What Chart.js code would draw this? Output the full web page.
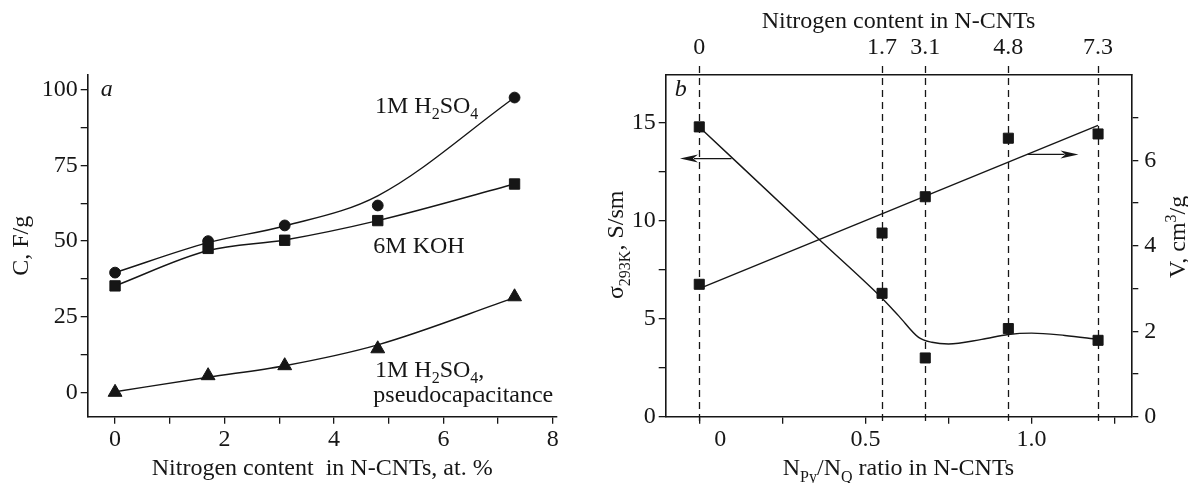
<!DOCTYPE html>
<html>
<head>
<meta charset="utf-8">
<title>N-CNTs: capacitance, conductivity and pore volume</title>
<script src="https://cdn.jsdelivr.net/npm/chart.js"></script>
<style>
  body { margin: 0; background: #fff; }
  #wrap { position: relative; width: 1188px; height: 483px; overflow: hidden; }
  #wrap canvas { position: absolute; top: 0; }
  #chartA { left: 0; }
  #chartB { left: 590px; }
</style>
</head>
<body>
<div id="wrap">
  <canvas id="chartA" width="590" height="483"></canvas>
  <canvas id="chartB" width="598" height="483"></canvas>
</div>
<script>
// panel a: specific capacitance vs nitrogen content
var nitrogen = [0, 1.7, 3.1, 4.8, 7.3];
var capH2SO4 = [39.6, 50, 55.2, 61.8, 97.5];
var capKOH = [35.2, 47.6, 50.3, 56.8, 68.9];
var capPseudo = [0, 5.5, 8.8, 14.4, 31.6];
// smoothed curves as drawn in the figure, read at the same nitrogen contents
var fitH2SO4 = [39.6, 49.5, 55, 65, 97.5];
var fitKOH = [35.2, 46.9, 50.4, 56.8, 68.9];
var fitPseudo = [0.2, 5.0, 8.8, 15.7, 31.3];
var capTicksX = [0, 1, 2, 3, 4, 5, 6, 7, 8];
var capTicksY = [0, 12.5, 25, 37.5, 50, 62.5, 75, 87.5, 100];

// panel b: conductivity and pore volume vs NPy/NQ ratio
var ratio = [0, 0.55, 0.68, 0.93, 1.2];
var nitrogenLabels = ['0', '1.7', '3.1', '4.8', '7.3'];
var sigma = [14.8, 6.3, 3.0, 4.5, 3.9];
var volume = [3.1, 4.3, 5.15, 6.52, 6.62];
var sigmaFitX = [0, 0.36, 0.55, 0.6, 0.66, 0.7, 0.75, 0.85, 0.93, 1.0, 1.1, 1.2];
var sigmaFitY = [14.8, 9.06, 6.05, 5.15, 4.05, 3.8, 3.71, 3.95, 4.2, 4.27, 4.15, 3.95];
var volumeFitX = [0, 1.2];
var volumeFitY = [3.0, 6.82];
var ratioTicks = [0, 0.25, 0.5, 0.75, 1, 1.25];
var sigmaTicks = [0, 2.5, 5, 7.5, 10, 12.5, 15];
var volumeTicks = [0, 1, 2, 3, 4, 5, 6, 7];

var INK = '#161616';
var SERIF = '"Liberation Serif", "Times New Roman", serif';

Chart.defaults.font.family = SERIF;
Chart.defaults.font.size = 24;
Chart.defaults.color = INK;
Chart.defaults.animation = false;
Chart.defaults.plugins.legend.display = false;
Chart.defaults.plugins.tooltip.enabled = false;

function pts(xs, ys) {
  return xs.map(function (x, i) { return {x: x, y: ys[i]}; });
}
function marker(data, style, radius) {
  return {data: data, showLine: false, pointStyle: style, pointRadius: radius,
          pointBackgroundColor: INK, pointBorderColor: INK, pointBorderWidth: 1};
}
function curve(data, axis) {
  return {data: data, showLine: true, pointRadius: 0, borderColor: INK, borderWidth: 1.4,
          cubicInterpolationMode: 'monotone', fill: false, yAxisID: axis || 'y'};
}
function setTicks(values) {
  return function (s) { s.ticks = values.map(function (v) { return {value: v}; }); };
}
function fixWidth(w) { return function (s) { s.width = w; }; }
function fixHeight(h) { return function (s) { s.height = h; }; }

// text with sub- and superscripts, parts = [[text, 'sub'|'sup'|undefined], ...]
function drawRich(ctx, parts, x, y, size, align) {
  var small = Math.round(size * 0.68);
  var fontOf = function (p) { return (p[1] ? small : size) + 'px ' + SERIF; };
  var w = 0;
  parts.forEach(function (p) { ctx.font = fontOf(p); w += ctx.measureText(p[0]).width; });
  var cx = align === 'center' ? x - w / 2 : x;
  ctx.textAlign = 'left';
  ctx.textBaseline = 'alphabetic';
  ctx.fillStyle = INK;
  parts.forEach(function (p) {
    ctx.font = fontOf(p);
    var dy = p[1] === 'sub' ? size * 0.28 : p[1] === 'sup' ? -size * 0.38 : 0;
    ctx.fillText(p[0], cx, y + dy);
    cx += ctx.measureText(p[0]).width;
  });
}

function axisStyle(tickLen) {
  return {
    border: {display: true, color: INK, width: 1.6},
    grid: {drawOnChartArea: false, drawTicks: tickLen > 0, tickLength: tickLen, color: INK, lineWidth: 1.3}
  };
}

// ---------- panel a ----------
var capNotes = [
  {x: 4.75, y: 92.5, parts: [['1M H'], ['2', 'sub'], ['SO'], ['4', 'sub']]},
  {x: 4.72, y: 46.1, parts: [['6M KOH']]},
  {x: 4.75, y: 5.2, parts: [['1M H'], ['2', 'sub'], ['SO'], ['4', 'sub'], [',']]},
  {x: 4.72, y: -3.3, parts: [['pseudocapacitance']]}
];

var notesA = {
  id: 'notesA',
  afterDatasetsDraw: function (chart) {
    var ctx = chart.ctx, sx = chart.scales.x, sy = chart.scales.y, area = chart.chartArea;
    ctx.save();
    capNotes.forEach(function (n) {
      drawRich(ctx, n.parts, sx.getPixelForValue(n.x), sy.getPixelForValue(n.y), 24, 'left');
    });
    ctx.font = 'italic 24px ' + SERIF;
    ctx.fillText('a', area.left + 13, area.top + 21);
    ctx.restore();
  }
};

var xA = Object.assign(axisStyle(7), {
  type: 'linear', min: -0.5, max: 8.07,
  afterBuildTicks: setTicks(capTicksX),
  afterFit: fixHeight(66.3),
  ticks: {padding: 2, font: {size: 24}, maxRotation: 0, autoSkip: false,
          callback: function (v) { return v % 2 === 0 ? String(v) : ''; }},
  title: {display: true, text: 'Nitrogen content  in N-CNTs, at. %', padding: {top: 0, bottom: 0}}
});
var yA = Object.assign(axisStyle(7), {
  type: 'linear', min: -8.07, max: 104.96,
  afterBuildTicks: setTicks(capTicksY),
  afterFit: fixWidth(87.7),
  ticks: {padding: 3, font: {size: 24}, autoSkip: false,
          callback: function (v) { return v % 25 === 0 ? String(v) : ''; }},
  title: {display: true, text: 'C, F/g', padding: {top: 7, bottom: 0}}
});

new Chart(document.getElementById('chartA'), {
  type: 'scatter',
  data: {
    datasets: [
      marker(pts(nitrogen, capH2SO4), 'circle', 5.4),
      marker(pts(nitrogen, capKOH), 'rect', 7.3),
      marker(pts(nitrogen, capPseudo), 'triangle', 8),
      curve(pts(nitrogen, fitH2SO4)),
      curve(pts(nitrogen, fitKOH)),
      curve(pts(nitrogen, fitPseudo))
    ]
  },
  options: {
    responsive: false,
    layout: {padding: {top: 75, right: 33.3, left: 0, bottom: 0}},
    scales: {x: xA, y: yA}
  },
  plugins: [notesA]
});

// ---------- panel b ----------
var arrows = [
  {axis: 'y', from: [0.097, 13.18], to: [-0.058, 13.18]},
  {axis: 'y2', from: [0.988, 6.14], to: [1.141, 6.14]}
];

var notesB = {
  id: 'notesB',
  beforeDatasetsDraw: function (chart) {
    // dashed guides at each sample, running past the frame
    var ctx = chart.ctx, sx = chart.scales.x, area = chart.chartArea;
    ctx.save();
    ctx.strokeStyle = INK;
    ctx.lineWidth = 1.3;
    ctx.setLineDash([7, 5]);
    ratio.forEach(function (r) {
      var px = Math.round(sx.getPixelForValue(r)) + 0.5;
      ctx.beginPath();
      ctx.moveTo(px, area.top - 9);
      ctx.lineTo(px, area.bottom + 9);
      ctx.stroke();
    });
    ctx.restore();
  },
  afterDatasetsDraw: function (chart) {
    var ctx = chart.ctx, sx = chart.scales.x, area = chart.chartArea;
    ctx.save();
    ctx.strokeStyle = INK;
    ctx.fillStyle = INK;
    ctx.lineWidth = 1.3;
    arrows.forEach(function (a) {
      var sy = chart.scales[a.axis];
      var x0 = sx.getPixelForValue(a.from[0]), y0 = sy.getPixelForValue(a.from[1]);
      var x1 = sx.getPixelForValue(a.to[0]), y1 = sy.getPixelForValue(a.to[1]);
      var dir = x1 > x0 ? 1 : -1;
      ctx.beginPath();
      ctx.moveTo(x0, y0);
      ctx.lineTo(x1 - dir * 14, y1);
      ctx.stroke();
      ctx.beginPath();
      ctx.moveTo(x1, y1);
      ctx.lineTo(x1 - dir * 18, y1 - 4);
      ctx.lineTo(x1 - dir * 13, y1);
      ctx.lineTo(x1 - dir * 18, y1 + 4);
      ctx.closePath();
      ctx.fill();
    });

    var midY = (area.top + area.bottom) / 2;
    // left axis title
    ctx.save();
    ctx.translate(33, midY - 1);
    ctx.rotate(-Math.PI / 2);
    drawRich(ctx, [['\u03c3'], ['293K', 'sub'], [', S/sm']], 0, 0, 24, 'center');
    ctx.restore();
    // right axis title
    ctx.save();
    ctx.translate(area.right + 53.7, midY - 9);
    ctx.rotate(-Math.PI / 2);
    drawRich(ctx, [['V, cm'], ['3', 'sup'], ['/g']], 0, 0, 24, 'center');
    ctx.restore();
    // bottom axis title
    drawRich(ctx, [['N'], ['Py', 'sub'], ['/N'], ['Q', 'sub'], [' ratio in N-CNTs']],
             (area.left + area.right) / 2, 475, 24, 'center');
    ctx.font = 'italic 24px ' + SERIF;
    ctx.fillText('b', area.left + 9, area.top + 21);
    ctx.restore();
  }
};

var xB = Object.assign(axisStyle(7), {
  type: 'linear', position: 'bottom', min: -0.101, max: 1.3,
  afterBuildTicks: setTicks(ratioTicks),
  afterFit: fixHeight(66.3),
  ticks: {padding: 2, font: {size: 24}, maxRotation: 0, autoSkip: false,
          callback: function (v) {
            if (v === 0) return '       0';
            if (v === 0.5) return '0.5';
            if (v === 1) return '1.0';
            return '';
          }}
});
var x2B = Object.assign(axisStyle(0), {
  type: 'linear', position: 'top', min: -0.101, max: 1.3,
  afterBuildTicks: setTicks(ratio),
  afterFit: fixHeight(75),
  ticks: {padding: 12.5, font: {size: 24}, maxRotation: 0, autoSkip: false,
          callback: function (v, i) { return nitrogenLabels[i]; }},
  title: {display: true, text: 'Nitrogen content in N-CNTs', padding: {top: 7, bottom: 0}}
});
var yB = Object.assign(axisStyle(7), {
  type: 'linear', position: 'left', min: 0, max: 17.45,
  afterBuildTicks: setTicks(sigmaTicks),
  afterFit: fixWidth(75.7),
  ticks: {padding: 3, font: {size: 24}, autoSkip: false,
          callback: function (v) { return v % 5 === 0 ? String(v) : ''; }}
});
var y2B = Object.assign(axisStyle(7), {
  type: 'linear', position: 'right', min: 0, max: 8,
  afterBuildTicks: setTicks(volumeTicks),
  afterFit: fixWidth(56.7),
  ticks: {padding: 6, font: {size: 24}, autoSkip: false,
          callback: function (v) { return v % 2 === 0 ? String(v) : ''; }}
});

var sigmaMarks = marker(pts(ratio, sigma), 'rect', 7.1);
var volumeMarks = marker(pts(ratio, volume), 'rect', 7.1);
volumeMarks.yAxisID = 'y2';

new Chart(document.getElementById('chartB'), {
  type: 'scatter',
  data: {
    datasets: [
      sigmaMarks,
      volumeMarks,
      curve(pts(sigmaFitX, sigmaFitY), 'y'),
      curve(pts(volumeFitX, volumeFitY), 'y2')
    ]
  },
  options: {
    responsive: false,
    layout: {padding: 0},
    scales: {x: xB, x2: x2B, y: yB, y2: y2B}
  },
  plugins: [notesB]
});
</script>
</body>
</html>
